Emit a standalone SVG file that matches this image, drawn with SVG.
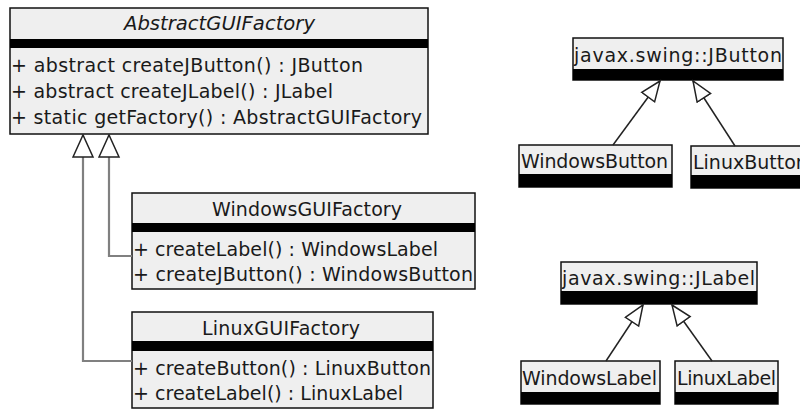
<svg xmlns="http://www.w3.org/2000/svg" width="800" height="410" viewBox="0 0 800 410">
<style>
text{font-family:"DejaVu Sans","Verdana",sans-serif;font-size:19px;fill:#1a1a1a}
.box{fill:#efefef;stroke:#111;stroke-width:1.5}
.bar{fill:#000}
.it{font-style:italic}
.gen{fill:none;stroke:#808080;stroke-width:2.2}
.gen2{fill:none;stroke:#222;stroke-width:1.5}
</style>
<defs>
<marker id="triL" markerUnits="userSpaceOnUse" markerWidth="24" markerHeight="24" viewBox="-1 -1 24 24" refX="22" refY="10" orient="auto">
<path d="M0,0 L22,10 L0,20 Z" fill="#fff" stroke="#222" stroke-width="1.5"/>
</marker>
<marker id="triR" markerUnits="userSpaceOnUse" markerWidth="24" markerHeight="20" viewBox="-1 -1 24 20" refX="20" refY="8" orient="auto">
<path d="M0,0 L20,8 L0,16 Z" fill="#fff" stroke="#222" stroke-width="1.5"/>
</marker>
</defs>

<g id="AbstractGUIFactory">
<rect class="box" x="10" y="8" width="418" height="126"/>
<rect class="bar" x="10" y="39" width="418" height="9"/>
<text class="it" x="124" y="30" textLength="191" lengthAdjust="spacingAndGlyphs">AbstractGUIFactory</text>
<text x="11" y="72" textLength="352" lengthAdjust="spacing">+ abstract createJButton() : JButton</text>
<text x="11" y="98" textLength="322" lengthAdjust="spacing">+ abstract createJLabel() : JLabel</text>
<text x="11" y="124" textLength="411" lengthAdjust="spacing">+ static getFactory() : AbstractGUIFactory</text>
</g>

<g id="WindowsGUIFactory">
<rect class="box" x="132" y="193" width="343" height="96"/>
<rect class="bar" x="132" y="223" width="343" height="9"/>
<text x="212" y="216" textLength="190" lengthAdjust="spacing">WindowsGUIFactory</text>
<text x="133" y="256" textLength="305" lengthAdjust="spacing">+ createLabel() : WindowsLabel</text>
<text x="133" y="281" textLength="340" lengthAdjust="spacing">+ createJButton() : WindowsButton</text>
</g>

<g id="LinuxGUIFactory">
<rect class="box" x="132" y="312" width="301" height="96"/>
<rect class="bar" x="132" y="341" width="301" height="10"/>
<text x="202" y="335" textLength="158" lengthAdjust="spacing">LinuxGUIFactory</text>
<text x="133" y="375" textLength="298" lengthAdjust="spacing">+ createButton() : LinuxButton</text>
<text x="133" y="400" textLength="270" lengthAdjust="spacing">+ createLabel() : LinuxLabel</text>
</g>

<g id="JButton">
<rect class="box" x="573" y="38" width="210" height="42"/>
<rect class="bar" x="573" y="69" width="210" height="11"/>
<text x="574" y="62" textLength="208" lengthAdjust="spacing">javax.swing::JButton</text>
</g>
<g id="WindowsButton">
<rect class="box" x="519" y="145" width="153" height="42"/>
<rect class="bar" x="519" y="174" width="153" height="13"/>
<text x="521" y="168" textLength="147" lengthAdjust="spacing">WindowsButton</text>
</g>
<g id="LinuxButton">
<rect class="box" x="691" y="146" width="130" height="42"/>
<rect class="bar" x="691" y="175" width="130" height="13"/>
<text x="693" y="169">LinuxButton</text>
</g>

<g id="JLabel">
<rect class="box" x="561" y="262" width="196" height="42"/>
<rect class="bar" x="561" y="291" width="196" height="13"/>
<text x="562" y="285" textLength="193" lengthAdjust="spacing">javax.swing::JLabel</text>
</g>
<g id="WindowsLabel">
<rect class="box" x="521" y="361" width="139" height="43"/>
<rect class="bar" x="521" y="392" width="139" height="12"/>
<text x="522" y="385" textLength="135" lengthAdjust="spacing">WindowsLabel</text>
</g>
<g id="LinuxLabel">
<rect class="box" x="675" y="361" width="103" height="43"/>
<rect class="bar" x="675" y="392" width="103" height="12"/>
<text x="677" y="385" textLength="99" lengthAdjust="spacing">LinuxLabel</text>
</g>

<g id="connectors">
<path class="gen" d="M132,256 H109 V135" marker-end="url(#triL)"/>
<path class="gen" d="M132,361 H83 V135" marker-end="url(#triL)"/>
<path class="gen2" d="M613,145 L660,81" marker-end="url(#triR)"/>
<path class="gen2" d="M735,146 L693,81" marker-end="url(#triR)"/>
<path class="gen2" d="M606,361 L643,305" marker-end="url(#triR)"/>
<path class="gen2" d="M712,361 L672,305" marker-end="url(#triR)"/>
</g>
</svg>
